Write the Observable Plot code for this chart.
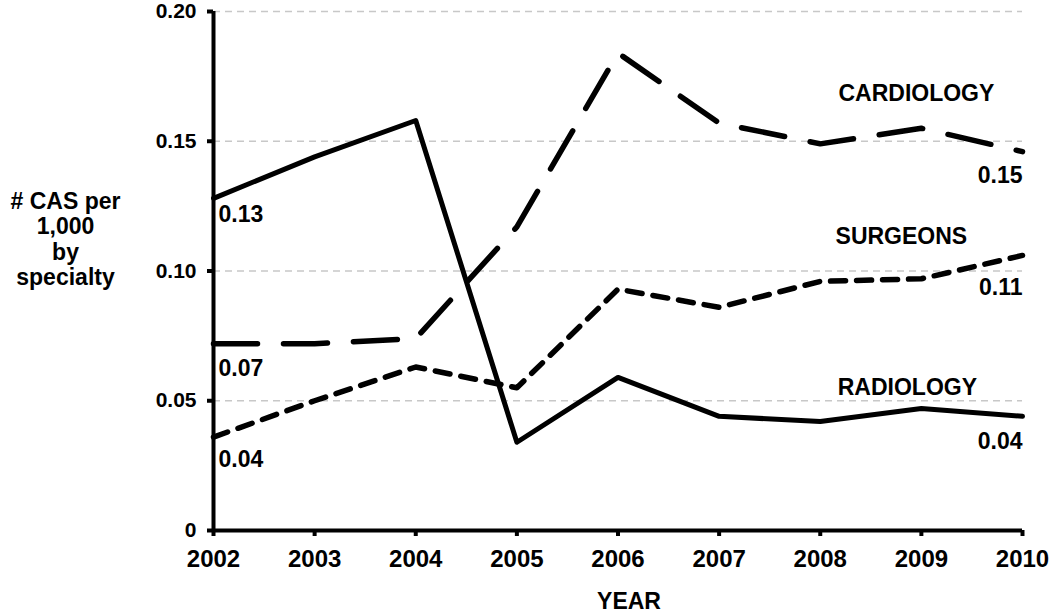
<!DOCTYPE html>
<html>
<head>
<meta charset="utf-8">
<script src="https://cdn.jsdelivr.net/npm/d3@7"></script>
<script src="https://cdn.jsdelivr.net/npm/@observablehq/plot@0.6"></script>
<style>
  html, body { margin: 0; padding: 0; background: #fff; }
</style>
</head>
<body>
<div id="chart"></div>
<script>
// ---- data ----
const years = [2002, 2003, 2004, 2005, 2006, 2007, 2008, 2009, 2010];
const seriesNames = ["RADIOLOGY", "CARDIOLOGY", "SURGEONS"];
const radiology  = [0.128, 0.144, 0.158, 0.034, 0.059, 0.044, 0.042, 0.047, 0.044];
const cardiology = [0.072, 0.072, 0.074, 0.117, 0.184, 0.157, 0.149, 0.155, 0.146];
const surgeons   = [0.036, 0.050, 0.063, 0.055, 0.093, 0.086, 0.096, 0.097, 0.106];
const startLabels = ["0.13", "0.07", "0.04"];
const endLabels   = ["0.04", "0.15", "0.11"];
const yTicks = [0, 0.05, 0.10, 0.15, 0.20];
const yTitle = "# CAS per\n1,000\nby\nspecialty";
const xTitle = "YEAR";

// ---- build table ----
const valuesBySeries = [radiology, cardiology, surgeons];
const rows = [];
seriesNames.forEach((s, i) => years.forEach((y, j) => rows.push({series: s, year: y, value: valuesBySeries[i][j]})));

// ---- styles (per series) ----
const styles = {
  RADIOLOGY:  {dash: null,    width: 5,   startDy: 16, endDy: 25, nameDx: -14, nameDy: -21},
  CARDIOLOGY: {dash: "44,26", width: 5.5, startDy: 25, endDy: 24, nameDx: -5,  nameDy: -35},
  SURGEONS:   {dash: "15,11", width: 5.5, startDy: 23, endDy: 32, nameDx: -20, nameDy: -42}
};

const marks = [
  Plot.gridY(yTicks.filter(d => d > 0), {stroke: "#c8c8c8", strokeOpacity: 1, strokeWidth: 1.5, strokeDasharray: "7,5"}),
  Plot.ruleX([years[0]], {y1: yTicks[0], y2: yTicks[yTicks.length - 1], stroke: "black", strokeWidth: 4}),
  Plot.ruleY([0], {x1: years[0], x2: years[years.length - 1], stroke: "black", strokeWidth: 4}),
  Plot.axisY({ticks: yTicks, tickFormat: d => d === 0 ? "0" : d3.format(".2f")(d), tickSize: 6, tickPadding: 11, strokeWidth: 4, fontSize: 21, label: null}),
  Plot.axisX({ticks: years, tickFormat: d => String(d), tickSize: 6, tickPadding: 13, strokeWidth: 4, fontSize: 24, label: null})
];

seriesNames.forEach((s, i) => {
  const st = styles[s];
  const data = rows.filter(r => r.series === s);
  const opts = {x: "year", y: "value", stroke: "black", strokeWidth: st.width, strokeLinecap: "round", strokeLinejoin: "round"};
  if (st.dash) opts.strokeDasharray = st.dash;
  marks.push(Plot.line(data, opts));
  marks.push(Plot.text([data[0]], {x: "year", y: "value", text: () => startLabels[i], textAnchor: "start", dx: 5, dy: st.startDy}));
  marks.push(Plot.text([data[data.length - 1]], {x: "year", y: "value", text: () => endLabels[i], textAnchor: "end", dx: 0, dy: st.endDy}));
  marks.push(Plot.text([data[data.length - 2]], {x: "year", y: "value", text: () => s, textAnchor: "middle", dx: st.nameDx, dy: st.nameDy}));
});

marks.push(Plot.text([yTitle], {text: d => d, frameAnchor: "left", textAnchor: "middle", lineAnchor: "middle", dx: -148, dy: -32, lineHeight: 1.1}));
marks.push(Plot.text([xTitle], {text: d => d, frameAnchor: "bottom", textAnchor: "middle", lineAnchor: "middle", dx: 11, dy: 71}));

const chart = Plot.plot({
  width: 1050,
  height: 613,
  marginLeft: 213,
  marginRight: 28,
  marginTop: 11,
  marginBottom: 83,
  x: {domain: [years[0], years[years.length - 1]]},
  y: {domain: [yTicks[0], yTicks[yTicks.length - 1]]},
  style: {fontFamily: "'Liberation Sans', Arial, sans-serif", fontWeight: "bold", fontSize: "23px", color: "black", background: "white"},
  marks
});
document.getElementById("chart").appendChild(chart);
</script>
</body>
</html>
